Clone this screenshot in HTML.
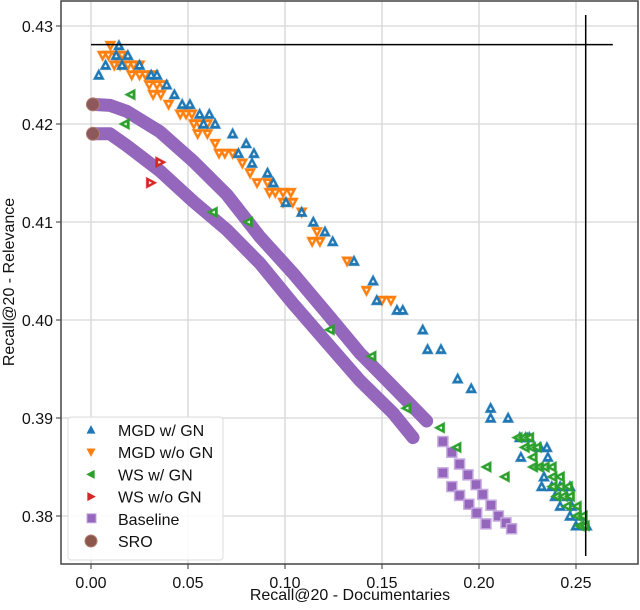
<!DOCTYPE html>
<html><head><meta charset="utf-8"><style>
body{margin:0;background:#fff}
svg text{font-family:"Liberation Sans","DejaVu Sans",sans-serif}
</style></head><body>
<svg id="chart" width="640" height="605" xmlns="http://www.w3.org/2000/svg">
<g id="grid"></g>
<g id="marks"></g>
<g id="axes"></g>
</svg>
<script>
const xTicks=[0,0.05,0.10,0.15,0.20,0.25];
const xTickLabels=["0.00","0.05","0.10","0.15","0.20","0.25"];
const yTicks=[0.38,0.39,0.40,0.41,0.42,0.43];
const yTickLabels=["0.38","0.39","0.40","0.41","0.42","0.43"];
const mgdGnX=[0.004,0.0075,0.0144,0.013,0.019,0.016,0.025,0.031,0.034,0.039,0.043,0.047,0.051,0.056,0.061,0.058,0.064,0.073,0.080,0.076,0.084,0.083,0.091,0.094,0.1005,0.1086,0.1146,0.1206,0.1246,0.1356,0.1454,0.1473,0.1577,0.1607,0.171,0.1735,0.1804,0.189,0.196,0.206,0.206,0.215,0.221,0.224,0.226,0.2315,0.235,0.2216,0.2355,0.2335,0.2323,0.2375,0.2418,0.2469,0.2392,0.2452,0.2418,0.2478,0.2469,0.2521,0.25,0.2555];
const mgdGnY=[0.425,0.426,0.428,0.427,0.427,0.426,0.426,0.425,0.425,0.424,0.423,0.422,0.422,0.421,0.421,0.420,0.420,0.419,0.418,0.417,0.417,0.416,0.415,0.414,0.412,0.411,0.410,0.409,0.408,0.406,0.404,0.402,0.401,0.401,0.399,0.397,0.397,0.394,0.393,0.391,0.390,0.390,0.388,0.388,0.388,0.387,0.387,0.386,0.386,0.384,0.383,0.383,0.383,0.383,0.382,0.382,0.381,0.381,0.380,0.380,0.379,0.379];
const mgdNoX=[0.010,0.006,0.009,0.013,0.016,0.012,0.015,0.019,0.022,0.025,0.021,0.025,0.028,0.032,0.030,0.034,0.037,0.032,0.036,0.040,0.046,0.049,0.052,0.053,0.056,0.060,0.055,0.060,0.064,0.066,0.069,0.073,0.078,0.082,0.0856,0.091,0.092,0.095,0.099,0.103,0.099,0.104,0.1086,0.1165,0.114,0.118,0.132,0.142,0.150,0.1546];
const mgdNoY=[0.428,0.427,0.427,0.427,0.427,0.426,0.426,0.426,0.426,0.426,0.425,0.425,0.425,0.425,0.424,0.424,0.424,0.423,0.423,0.422,0.421,0.421,0.421,0.420,0.420,0.420,0.419,0.419,0.418,0.417,0.417,0.417,0.416,0.415,0.414,0.414,0.413,0.413,0.413,0.413,0.412,0.412,0.411,0.409,0.408,0.408,0.406,0.403,0.402,0.402];
const wsGnX=[0.0205,0.0175,0.0629,0.081,0.1232,0.1447,0.1627,0.18,0.1885,0.204,0.2134,0.220,0.223,0.226,0.2237,0.227,0.2299,0.2278,0.228,0.231,0.234,0.2376,0.238,0.2418,0.238,0.242,0.246,0.240,0.2435,0.247,0.2454,0.2505,0.2505,0.2536,0.252,0.2546];
const wsGnY=[0.423,0.420,0.411,0.410,0.399,0.3963,0.391,0.389,0.387,0.385,0.384,0.388,0.388,0.388,0.387,0.387,0.387,0.386,0.385,0.385,0.385,0.385,0.384,0.384,0.383,0.383,0.383,0.382,0.382,0.382,0.381,0.381,0.380,0.380,0.379,0.379];
const wsNoX=[0.0356,0.0308];
const wsNoY=[0.4161,0.414];
const baseUpperX=[0.001,0.0098,0.0184,0.0356,0.0527,0.070,0.087,0.104,0.1215,0.1387,0.1557,0.173,0.1814,0.186,0.190,0.1943,0.1985,0.2019,0.2062,0.210,0.2139,0.2168];
const baseUpperY=[0.422,0.4219,0.4213,0.4192,0.4162,0.4128,0.4085,0.4048,0.4007,0.3966,0.3932,0.3897,0.3876,0.3865,0.3853,0.3842,0.3832,0.3822,0.3811,0.380,0.3793,0.3787];
const baseLowerX=[0.001,0.0098,0.0184,0.0356,0.0527,0.070,0.087,0.104,0.1215,0.1387,0.1557,0.166,0.1814,0.186,0.190,0.1948,0.1988,0.2036];
const baseLowerY=[0.419,0.419,0.4178,0.4152,0.4121,0.4092,0.4058,0.4017,0.3977,0.3938,0.3905,0.388,0.3844,0.383,0.3821,0.3812,0.3803,0.3792];
const sroX=[0.001,0.001];
const sroY=[0.422,0.419];
const denseUntil=0.176;

const NS="http://www.w3.org/2000/svg";
const L=61,R=638,T=1,B=564;
function sx(v){return 91+(v-0)*1940;}
function sy(v){return 26+(0.43-v)*9800;}
function mk(tag,attrs,parent){const e=document.createElementNS(NS,tag);for(const k in attrs)e.setAttribute(k,attrs[k]);parent.appendChild(e);return e;}
const grid=document.getElementById('grid'),marks=document.getElementById('marks'),axes=document.getElementById('axes');
const FS=16;

xTicks.forEach((t,i)=>{
  const g=mk('line',{x1:sx(t),x2:sx(t),y1:T,y2:B,stroke:'#d6d6d6','stroke-width':1.3},grid);
  
  
  const tk=mk('line',{x1:sx(t),x2:sx(t),y1:B,y2:B+5,stroke:'#333','stroke-width':1},axes);
  
  
  const lb=mk('text',{x:sx(t),y:B+24,'text-anchor':'middle','font-size':FS,fill:'#111'},axes);
  lb.textContent=xTickLabels[i];
  
  
});
yTicks.forEach((t,i)=>{
  const g=mk('line',{x1:L,x2:R,y1:sy(t),y2:sy(t),stroke:'#d6d6d6','stroke-width':1.3},grid);
  
  
  const tk=mk('line',{x1:L-5,x2:L,y1:sy(t),y2:sy(t),stroke:'#333','stroke-width':1},axes);
  
  
  const lb=mk('text',{x:L-8,y:sy(t)+6,'text-anchor':'end','font-size':FS,fill:'#111'},axes);
  lb.textContent=yTickLabels[i];
  
  
});

function tri(cx,cy,up,color,s){
  const h=s*0.9;
  const p=up?[[cx,cy-h*0.6],[cx-s/2,cy+h*0.45],[cx+s/2,cy+h*0.45]]:[[cx,cy+h*0.6],[cx-s/2,cy-h*0.45],[cx+s/2,cy-h*0.45]];
  return p.map(q=>q.join(',')).join(' ');
}
function triH(cx,cy,left,s){
  const h=s*0.9;
  const p=left?[[cx-h*0.6,cy],[cx+h*0.45,cy-s/2],[cx+h*0.45,cy+s/2]]:[[cx+h*0.6,cy],[cx-h*0.45,cy-s/2],[cx-h*0.45,cy+s/2]];
  return p.map(q=>q.join(',')).join(' ');
}
function drawTri(cx,cy,kind,color,name,s){
  let pts,inner;
  if(kind==='up'){pts=tri(cx,cy,true,color,s);inner=tri(cx,cy+0.5,true,color,s*0.3);}
  else if(kind==='down'){pts=tri(cx,cy,false,color,s);inner=tri(cx,cy-0.5,false,color,s*0.3);}
  else if(kind==='left'){pts=triH(cx,cy,true,s);inner=triH(cx+0.5,cy,true,s*0.3);}
  else {pts=triH(cx,cy,false,s);inner=triH(cx-0.5,cy,false,s*0.3);}
  const g=mk('g',{},marks);
  
  
  mk('polygon',{points:pts,fill:color,stroke:color,'stroke-width':1,'stroke-opacity':0.5},g);
  mk('polygon',{points:inner,fill:'#fff','fill-opacity':0.9},g);
  return g;
}

function band(xs,ys,name){
  const pts=[];
  xs.forEach((x,i)=>{if(x<=denseUntil)pts.push(sx(x)+','+sy(ys[i]));});
  const pl=mk('polyline',{points:pts.join(' '),fill:'none',stroke:'#9467bd','stroke-width':13,'stroke-linejoin':'round','stroke-linecap':'round'},marks);
  
  
}
band(baseUpperX,baseUpperY,'baseline-upper-band');
band(baseLowerX,baseLowerY,'baseline-lower-band');
function squares(xs,ys){
  xs.forEach((x,i)=>{
    if(x<=denseUntil)return;
    const r=mk('rect',{x:sx(x)-5,y:sy(ys[i])-5,width:10,height:10,fill:'#9467bd',stroke:'#c6a9e0','stroke-width':1.5},marks);
    
    
  });
}
squares(baseUpperX,baseUpperY);
squares(baseLowerX,baseLowerY);

mgdNoX.forEach((x,i)=>drawTri(sx(x),sy(mgdNoY[i]),'down','#ff7f0e','mgd-wo-gn-point',11));
mgdGnX.forEach((x,i)=>drawTri(sx(x),sy(mgdGnY[i]),'up','#1f77b4','mgd-w-gn-point',11));
wsGnX.forEach((x,i)=>drawTri(sx(x),sy(wsGnY[i]),'left','#2ca02c','ws-w-gn-point',11));
wsNoX.forEach((x,i)=>drawTri(sx(x),sy(wsNoY[i]),'right','#d62728','ws-wo-gn-point',11));
sroX.forEach((x,i)=>{
  const c=mk('circle',{cx:sx(x),cy:sy(sroY[i]),r:6.5,fill:'#8c564b','fill-opacity':0.85,stroke:'#b08070','stroke-width':1},marks);
  
  
});

const hl=mk('line',{x1:sx(0),x2:sx(0.269),y1:sy(0.4281),y2:sy(0.4281),stroke:'#000','stroke-width':1.5},marks);


const vl=mk('line',{x1:sx(0.255),x2:sx(0.255),y1:15,y2:556,stroke:'#000','stroke-width':1.5},marks);



const fr=mk('rect',{x:L,y:T,width:R-L,height:B-T,fill:'none',stroke:'#444','stroke-width':1.5},axes);



const xt=mk('text',{x:350,y:600,'text-anchor':'middle','font-size':FS,fill:'#111'},axes);
xt.textContent='Recall@20 - Documentaries';


const yt=mk('text',{x:0,y:0,'text-anchor':'middle','font-size':FS,fill:'#111',transform:'translate(14,282) rotate(-90)'},axes);
yt.textContent='Recall@20 - Relevance';



const lg=mk('g',{},axes);


mk('rect',{x:68,y:417,width:155,height:143,rx:3,fill:'#fff','fill-opacity':0.85,stroke:'#ddd','stroke-width':1},lg);
const entries=[["MGD w/ GN","up","#1f77b4"],["MGD w/o GN","down","#ff7f0e"],["WS w/ GN","left","#2ca02c"],["WS w/o GN","right","#d62728"],["Baseline","sq","#9467bd"],["SRO","circ","#8c564b"]];
entries.forEach((e,i)=>{
  const y=430+i*22.2;
  const g=mk('g',{},lg);
  
  
  if(e[1]==='sq'){mk('rect',{x:87,y:y-5,width:9,height:9,fill:'#9467bd',stroke:'#c6a9e0'},g);}
  else if(e[1]==='circ'){mk('circle',{cx:91,cy:y,r:6,fill:'#8c564b',stroke:'#b08070'},g);}
  else{
    let pts=(e[1]==='up'||e[1]==='down')?tri(91,y,e[1]==='up',e[2],9):triH(91,y,e[1]==='left',9);
    mk('polygon',{points:pts,fill:e[2]},g);
  }
  const t=mk('text',{x:118,y:y+6,'font-size':FS,fill:'#111'},g);
  t.textContent=e[0];
});
</script>
</body></html>
